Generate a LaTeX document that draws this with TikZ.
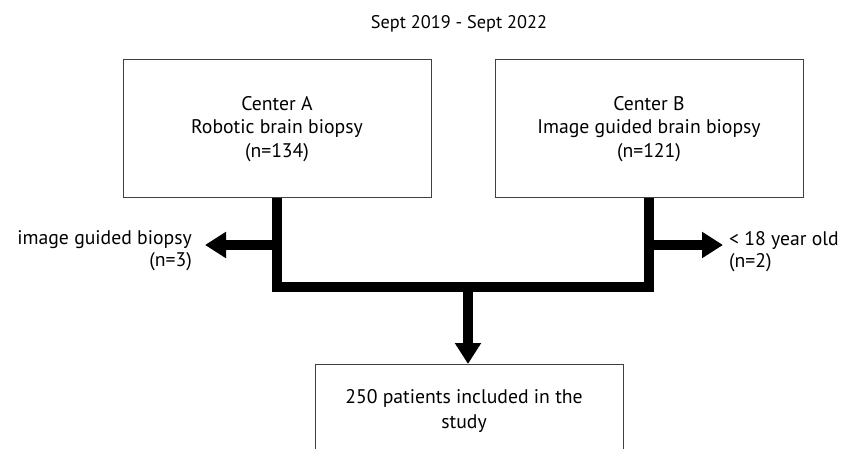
\documentclass[tikz,border=0pt]{standalone}
\usepackage{fontspec}
\setmainfont{PT Sans}
\usetikzlibrary{arrows.meta}
\tikzset{
  box/.style={draw=black!75, line width=1pt, fill=white, align=center, inner sep=0pt,
    font=\fontsize{19.7}{23.5}\selectfont},
  lbl/.style={inner sep=0pt, font=\fontsize{19.7}{22}\selectfont},
  bar/.style={line width=10.5pt, draw=black, line join=miter, line cap=butt},
  arr/.style={bar, -{Triangle[length=21pt 0 0, width=25pt 0 0]}},
}
\begin{document}
\begin{tikzpicture}[x=1pt,y=-1pt]
\useasboundingbox (0,0) rectangle (849,449);
\clip (0,0) rectangle (849,449);
\node[lbl, font=\fontsize{18.3}{22}\selectfont] (title) at (459,24) {Sept 2019 - Sept 2022};
\node[box, minimum width=308pt, minimum height=138pt] (boxA) at (277,129)
  {Center A\\Robotic brain biopsy\\(n=134)};
\node[box, minimum width=308pt, minimum height=138pt] (boxB) at (649,129)
  {Center B\\Image guided brain biopsy\\(n=121)};
\node[box, minimum width=308pt, minimum height=100pt, anchor=north, text depth=0pt] (boxC) at (469,364)
  {};
\node[lbl, align=center, font=\fontsize{19.7}{25}\selectfont] (boxCtext) at (464,411)
  {250 patients included in the\\study};
\coordinate (jA) at (277,287);
\coordinate (jB) at (649,287);
\coordinate (jM) at (468,287);
\coordinate (sA) at (277,245);
\coordinate (sB) at (649,245);
\coordinate (tipL) at (205,245);
\coordinate (tipR) at (723,245);
\draw[bar] (boxA.south) -- (jA) -- (jB) -- (boxB.south);
\draw[arr] (jM) -- (jM |- boxC.north);
\draw[arr] (sA) -- (tipL);
\draw[arr] (sB) -- (tipR);
\node[lbl, align=right, anchor=east] (exA) at (192,251) {image guided biopsy\\(n=3)};
\node[lbl, align=left, anchor=west] (exB) at (729,252) {< 18 year old\\(n=2)};
\end{tikzpicture}
\end{document}
